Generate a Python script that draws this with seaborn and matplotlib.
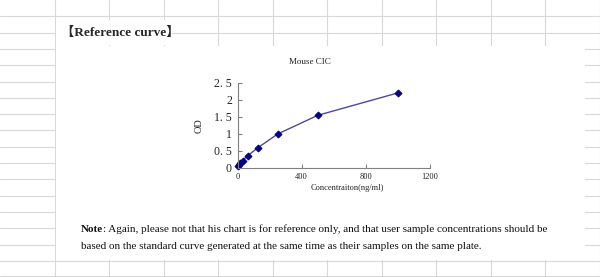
import matplotlib
matplotlib.use("Agg")
import matplotlib.pyplot as plt
import seaborn as sns
import pandas as pd
from matplotlib.lines import Line2D
from matplotlib.patches import Rectangle

# data
concentration = [0, 7.8, 15.6, 31.25, 62.5, 125, 250, 500, 1000]
od = [0.04, 0.09, 0.14, 0.21, 0.35, 0.58, 0.99, 1.54, 2.2]
x_ticks = [0, 400, 800, 1200]
y_ticks = [0, 0.5, 1, 1.5, 2, 2.5]
y_tick_labels = ["0", "0. 5", "1", "1. 5", "2", "2. 5"]

df = pd.DataFrame({"conc": concentration, "od": od})

sns.set_theme(style="white")
plt.rcParams["font.family"] = ["Liberation Serif", "DejaVu Serif"]

W, H = 600, 277
fig = plt.figure(figsize=(W / 100, H / 100), dpi=100)
fig.patch.set_facecolor("white")

def fx(x):
    return x / W

def fy(y):
    return 1 - y / H

grid_c = "#d8d8d8"
# spreadsheet background grid
y = 16.3
while y < H:
    fig.add_artist(Line2D([0, 1], [fy(y), fy(y)], color=grid_c, lw=0.8, zorder=0))
    y += 16.3
x = 54.5
while x < W:
    fig.add_artist(Line2D([fx(x), fx(x)], [0, 1], color=grid_c, lw=0.8, zorder=0))
    x += 54.5
fig.add_artist(Line2D([0, 1], [fy(276.3), fy(276.3)], color=grid_c, lw=0.8, zorder=0))
# white content box
fig.add_artist(Rectangle((fx(55.5), fy(260)), fx(585) - fx(55.5), fy(46) - fy(260),
                         facecolor="white", edgecolor="none", zorder=1))
fig.add_artist(Rectangle((fx(55.5), fy(45)), fx(172) - fx(55.5), fy(20) - fy(45),
                         facecolor="white", edgecolor="none", zorder=1))

fig.text(fx(61), fy(33), "【Reference curve】", fontsize=9.5, fontweight="bold",
         va="center", ha="left", zorder=3,
         family=["Liberation Serif", "Noto Sans CJK SC"])

ax = fig.add_axes([fx(237.5), fy(167.7), fx(430) - fx(237.5), fy(82.7) - fy(167.7)])
ax.set_zorder(2)
ax.patch.set_alpha(0)

sns.lineplot(data=df, x="conc", y="od", ax=ax, color="#4a4a9e", lw=1.0,
             marker="D", markersize=3.5, markerfacecolor="#000080",
             markeredgecolor="#000080", clip_on=False)

ax.set_xlim(0, 1200)
ax.set_ylim(0, 2.5)
ax.set_xticks(x_ticks)
ax.set_xticklabels([str(v) for v in x_ticks], fontsize=6)
ax.set_yticks(y_ticks)
ax.set_yticklabels(y_tick_labels, fontsize=8.5)
ax.tick_params(axis="both", direction="in", length=3, width=0.8, color="#808080",
               left=True, bottom=True, colors="#222222")
ax.tick_params(axis="x", pad=4)
ax.tick_params(axis="y", pad=4)
for s in ["top", "right"]:
    ax.spines[s].set_visible(False)
for s in ["left", "bottom"]:
    ax.spines[s].set_color("#808080")
    ax.spines[s].set_linewidth(0.8)

ax.set_xlabel("")
ax.set_ylabel("")
fig.text(fx(347), fy(188), "Concentraiton(ng/ml)", fontsize=6, ha="center", va="center", color="#222222")
fig.text(fx(199), fy(126), "OD", fontsize=7.5, ha="center", va="center", rotation=90, color="#222222")
fig.text(fx(310), fy(62), "Mouse CIC", fontsize=6.5, ha="center", va="center", color="#222222")

t1 = fig.text(fx(81), fy(232), "Note", fontsize=8, fontweight="bold", ha="left",
              va="baseline", color="#111111", zorder=3)
fig.canvas.draw()
ax.annotate(": Again, please not that his chart is for reference only, and that user sample concentrations should be",
            xy=(1, 0), xycoords=t1, va="bottom", ha="left", fontsize=8, color="#111111",
            annotation_clip=False)
fig.text(fx(81), fy(249), "based on the standard curve generated at the same time as their samples on the same plate.",
         fontsize=8, ha="left", va="baseline", color="#111111", zorder=3)

fig.savefig("out.png", dpi=100, facecolor="white")
